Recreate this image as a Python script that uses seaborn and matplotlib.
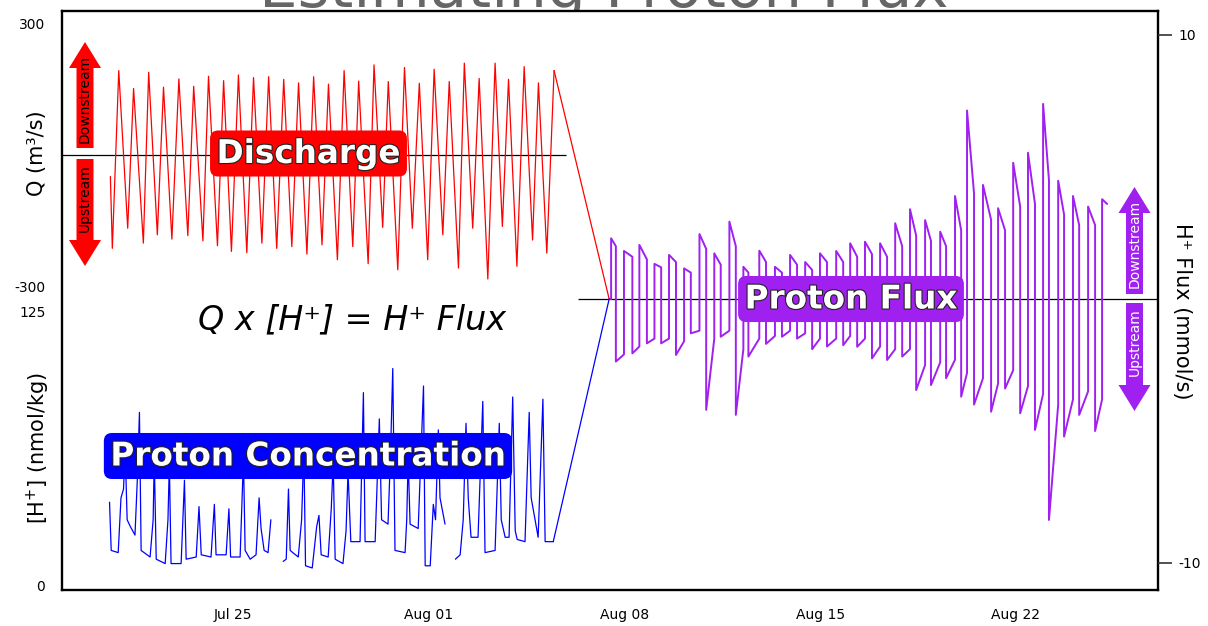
import numpy as np
import pandas as pd
import matplotlib
matplotlib.use("Agg")
import matplotlib.pyplot as plt
import matplotlib.dates as mdates
import matplotlib.patheffects as pe
from matplotlib.patches import FancyArrow, ConnectionPatch
import seaborn as sns

# ---- data (times are days after Jul 25) ----
base = pd.Timestamp("2016-07-25")
tick_dates = ["2016-07-25", "2016-08-01", "2016-08-08", "2016-08-15", "2016-08-22"]
x_range = [-6.12, 33.08]

# discharge: start point, then one trough + one peak per tide
q_start = (-4.39, -50)
q_trough_day = [-4.32, -3.77, -3.21, -2.71, -2.19, -1.62, -1.08, -0.56, -0.06, 0.49,
                1.03, 1.56, 2.10, 2.64, 3.18, 3.73, 4.28, 4.83, 5.35, 5.89,
                6.41, 6.96, 7.50, 8.06, 8.57, 9.11, 9.63, 10.15, 10.71, 11.22]
q_trough = [-214, -168, -202, -183, -193, -185, -197, -208, -221, -224,
            -202, -214, -210, -227, -206, -240, -210, -249, -166, -263,
            -168, -240, -183, -259, -168, -284, -164, -255, -195, -225]
q_peak_day = [-4.09, -3.56, -3.02, -2.49, -1.94, -1.41, -0.88, -0.34, 0.19, 0.73,
              1.27, 1.81, 2.34, 2.88, 3.41, 3.97, 4.49, 5.04, 5.55, 6.13,
              6.66, 7.19, 7.73, 8.27, 8.80, 9.37, 9.85, 10.41, 10.92, 11.48]
q_peak = [192, 151, 188, 154, 173, 156, 179, 169, 182, 176,
          178, 172, 164, 178, 161, 192, 168, 205, 167, 199,
          163, 195, 167, 209, 174, 209, 172, 201, 164, 192]

# proton concentration, three logger segments
conc_day_1 = [-4.42, -4.36, -4.11, -4.01, -3.92, -3.86, -3.79, -3.68, -3.51, -3.42, -3.35, -3.29,
              -2.97, -2.86, -2.82, -2.75, -2.43, -2.33, -2.28, -2.22, -1.86, -1.74, -1.68,
              -1.32, -1.22, -1.14, -0.79, -0.67, -0.61, -0.25, -0.15, -0.09, 0.25, 0.37, 0.43,
              0.61, 0.82, 0.93, 1.00, 1.11, 1.25, 1.35]
conc_1 = [38, 16, 15, 40, 44, 62, 30, 27, 23, 50, 79, 16,
          13, 30, 58, 12, 10, 30, 56, 10, 10, 48, 12,
          13, 36, 14, 13, 37, 14, 14, 35, 13, 13, 58, 16,
          12, 14, 40, 26, 16, 15, 30]
conc_day_2 = [1.79, 1.90, 1.98, 2.04, 2.33, 2.45, 2.53, 2.59, 2.83, 2.99, 3.07, 3.15,
              3.40, 3.51, 3.58, 3.65, 3.93, 4.04, 4.11, 4.21, 4.54, 4.66, 4.72,
              5.08, 5.23, 5.31, 5.54, 5.63, 5.71, 5.79, 6.15, 6.21, 6.26, 6.33,
              6.62, 6.69, 6.81, 6.87, 7.05, 7.16, 7.24, 7.34, 7.40, 7.58]
conc_2 = [11, 12, 44, 16, 13, 30, 62, 9, 8, 27, 32, 14,
          13, 35, 56, 12, 10, 25, 52, 20, 20, 88, 20,
          20, 76, 30, 28, 60, 99, 16, 15, 30, 58, 28,
          26, 50, 91, 9, 9, 37, 30, 71, 40, 28]
conc_day_3 = [7.95, 8.12, 8.23, 8.33, 8.41, 8.51, 8.76, 8.93, 9.01, 9.37, 9.52, 9.59,
              9.73, 9.87, 10.00, 10.09, 10.16, 10.44, 10.59, 10.66, 10.80, 10.91,
              11.08, 11.16, 11.45]
conc_3 = [12, 14, 30, 74, 40, 22, 22, 84, 15, 16, 74, 30,
          22, 22, 86, 25, 21, 20, 79, 40, 30, 22,
          85, 20, 20]

# proton flux: start at zero, then rise / high / fall / low for each tide
flux_start = (13.45, 0.0)
flux_rise = [13.52, 13.98, 14.53, 15.07, 15.59, 16.13, 16.68, 17.21, 17.75, 18.25,
             18.82, 19.38, 19.92, 20.46, 20.99, 21.57, 22.07, 22.60, 23.14, 23.68,
             24.21, 24.75, 25.29, 25.82, 26.25, 26.82, 27.36, 27.90, 28.43, 28.97,
             29.51, 30.04, 30.58, 31.08]
flux_fall = [13.69, 14.28, 14.80, 15.31, 15.84, 16.37, 16.92, 17.44, 17.98, 18.43,
             19.06, 19.63, 20.17, 20.71, 21.24, 21.82, 22.32, 22.85, 23.39, 23.93,
             24.43, 24.96, 25.50, 26.04, 26.50, 27.11, 27.61, 28.15, 28.68, 29.18,
             29.72, 30.26, 30.83]
flux_high = [2.30, 1.82, 2.05, 1.33, 1.67, 1.16, 2.46, 1.73, 2.93, 1.22,
             1.83, 1.22, 1.67, 1.40, 1.73, 1.82, 2.11, 2.17, 2.11, 2.87,
             3.40, 2.99, 2.55, 3.90, 7.14, 4.32, 3.44, 5.16, 5.54, 7.39,
             4.48, 3.90, 3.50, 3.78]
flux_high_end = [2.0, 1.6, 1.5, 1.2, 1.4, 1.0, 1.9, 1.3, 2.0, 1.0,
                 1.4, 1.0, 1.3, 1.1, 1.4, 1.4, 1.6, 1.7, 1.6, 2.0,
                 2.4, 2.2, 2.0, 2.6, 4.0, 3.0, 2.6, 3.5, 3.6, 4.5,
                 3.2, 2.8, 2.8]
flux_low = [-2.37, -2.06, -1.68, -1.68, -2.12, -1.30, -4.20, -1.43, -4.39, -2.18,
            -1.70, -1.43, -1.50, -1.90, -1.80, -1.75, -1.81, -2.25, -2.31, -2.18,
            -3.45, -3.26, -3.00, -3.70, -4.00, -4.27, -3.39, -4.33, -4.96, -8.37,
            -5.21, -4.39, -5.00]
flux_low_end = [-2.1, -1.8, -1.5, -1.5, -1.6, -1.2, -1.5, -1.2, -1.9, -1.5,
                -1.4, -1.2, -1.3, -1.5, -1.5, -1.4, -1.5, -1.8, -1.9, -1.9,
                -2.5, -2.4, -2.3, -2.8, -3.0, -3.2, -2.7, -3.3, -3.6, -4.0,
                -3.8, -3.5, -3.8]
flux_end = (31.26, 3.6)

q_zero_end = 11.91
flux_zero_start = 12.34


def to_time(days):
    return base + pd.to_timedelta(np.asarray(days, dtype=float), unit="D")


# discharge polyline
q_days = [q_start[0]]
q_vals = [q_start[1]]
for td, tv, pd_, pv in zip(q_trough_day, q_trough, q_peak_day, q_peak):
    q_days += [td, pd_]
    q_vals += [tv, pv]
df_q = pd.DataFrame({"time": to_time(q_days), "Q": q_vals})

# concentration segments
df_c = pd.concat([
    pd.DataFrame({"time": to_time(d), "H": v, "seg": i})
    for i, (d, v) in enumerate([(conc_day_1, conc_1), (conc_day_2, conc_2), (conc_day_3, conc_3)])
])

# flux polyline
f_days = [flux_start[0]]
f_vals = [flux_start[1]]
prev = flux_start[1]
for i in range(len(flux_fall)):
    f_days += [flux_rise[i], flux_rise[i], flux_fall[i], flux_fall[i]]
    f_vals += [prev, flux_high[i], flux_high_end[i], flux_low[i]]
    prev = flux_low_end[i]
f_days += [flux_rise[-1], flux_rise[-1], flux_end[0]]
f_vals += [prev, flux_high[-1], flux_end[1]]
df_f = pd.DataFrame({"time": to_time(f_days), "F": f_vals})

# ---- figure ----
sns.set_style("white")
plt.rcParams["font.family"] = ["DejaVu Sans"]
plt.rcParams["axes.unicode_minus"] = False
plt.rcParams["text.color"] = "black"
plt.rcParams["xtick.color"] = "black"
plt.rcParams["ytick.color"] = "black"

W, H = 1208, 626
fig = plt.figure(figsize=(W / 100, H / 100), dpi=100)


def rect(x0, y0, x1, y1):
    return [x0 / W, 1 - y1 / H, (x1 - x0) / W, (y1 - y0) / H]


# clipped title behind the frame
fig.text(0.5, 1 - 7 / H, "Estimating Proton Flux", ha="center", va="baseline",
         fontsize=44, color="#666666", zorder=-1)

ax = fig.add_axes(rect(62, 11, 1158, 590))
ax.set_facecolor("white")
for s in ax.spines.values():
    s.set_linewidth(1.7)
    s.set_color("black")
ax.set_yticks([])
ax.set_xlim(to_time(x_range[:1])[0], to_time(x_range[1:])[0])
ax.set_xticks(pd.to_datetime(tick_dates))
ax.xaxis.set_major_formatter(mdates.DateFormatter("%b %d"))
ax.tick_params(axis="x", length=9, width=1.5, color="#333333", labelsize=10, pad=4,
               labelcolor="black")

ax_q = fig.add_axes(rect(62, 23.3, 1158, 286), sharex=ax)
ax_c = fig.add_axes(rect(62, 311.5, 1158, 585.5), sharex=ax)
ax_f = fig.add_axes(rect(62, 35, 1158, 563), sharex=ax)
for a in (ax_q, ax_c, ax_f):
    a.set_facecolor("none")
    for s in a.spines.values():
        s.set_visible(False)
    a.tick_params(axis="x", bottom=False, labelbottom=False)
    a.tick_params(axis="y", length=10, width=1.2, color="#333333", labelsize=10, pad=2,
                  labelcolor="black")

# discharge
ax_q.hlines(0, to_time(x_range[:1])[0], to_time([q_zero_end])[0], color="black", lw=0.9)
sns.lineplot(data=df_q, x="time", y="Q", ax=ax_q, color="#ff0000", linewidth=0.9,
             estimator=None, sort=False)
ax_q.set_ylim(-300, 300)
ax_q.set_yticks([-300, 300])
ax_q.set_ylabel("")
ax_q.set_xlabel("")

# concentration
sns.lineplot(data=df_c, x="time", y="H", units="seg", ax=ax_c, color="#0000ff",
             linewidth=0.9, estimator=None, sort=False, legend=False)
ax_c.set_ylim(0, 125)
ax_c.set_yticks([0, 125])
ax_c.set_ylabel("")
ax_c.set_xlabel("")

# flux
ax_f.hlines(0, to_time([flux_zero_start])[0], to_time(x_range[1:])[0], color="black", lw=0.9)
sns.lineplot(data=df_f, x="time", y="F", ax=ax_f, color="#a020f0", linewidth=1.4,
             estimator=None, sort=False)
ax_f.set_ylim(-10, 10)
ax_f.set_yticks([-10, 10])
ax_f.yaxis.tick_right()
ax_f.tick_params(axis="y", left=False, right=True, pad=5)
ax_f.set_ylabel("")
ax_f.set_xlabel("")

ax.set_xlim(to_time(x_range[:1])[0], to_time(x_range[1:])[0])
ax.set_xlabel("")

# connectors from inputs to flux
t_f0 = mdates.date2num(to_time([flux_start[0]])[0])
for axa, xy, col in [
    (ax_q, (mdates.date2num(to_time([q_peak_day[-1]])[0]), q_peak[-1]), "#ff0000"),
    (ax_c, (mdates.date2num(to_time([conc_day_3[-1]])[0]), conc_3[-1]), "#0000ff"),
]:
    con = ConnectionPatch(xyA=xy, coordsA=axa.transData, xyB=(t_f0, 0), coordsB=ax_f.transData,
                          color=col, lw=0.9)
    fig.add_artist(con)

# ---- overlay: labels, arrows ----
ov = fig.add_axes([0, 0, 1, 1], zorder=5)
ov.set_xlim(0, W)
ov.set_ylim(H, 0)
ov.axis("off")
ov.set_facecolor("none")

outline = [pe.withStroke(linewidth=1.6, foreground="#222222")]
for (x, y, txt, col) in [(308.5, 153.5, "Discharge", "#ff0000"),
                         (308, 456, "Proton Concentration", "#0000ff"),
                         (851, 299, "Proton Flux", "#a020f0")]:
    ov.text(x, y, txt, ha="center", va="center", fontsize=23.5, fontweight="bold",
            color="white", path_effects=outline,
            bbox=dict(boxstyle="round,pad=0.2,rounding_size=0.25", fc=col, ec="none"))

ov.text(352, 320, "Q x [H\u207a] = H\u207a Flux", ha="center", va="center",
        fontsize=24, style="italic", color="black")

# side labels
ov.text(37, 153, "Q (m\u00b3/s)", rotation=90, ha="center", va="center", fontsize=15)
ov.text(38, 448, "[H$^{+}$] (nmol/kg)", rotation=90, ha="center", va="center", fontsize=15)
ov.text(1182, 311, "H\u207a Flux (mmol/s)", rotation=-90, ha="center", va="center", fontsize=15)

# direction arrows
for (cx, y0, y1, col, txt, tcol, ty) in [
    (85, 148, 42, "#ff0000", "Downstream", "black", 99),
    (85, 159, 266, "#ff0000", "Upstream", "black", 198),
    (1134.5, 294, 187, "#a020f0", "Downstream", "white", 244),
    (1134.5, 303, 411, "#a020f0", "Upstream", "white", 342),
]:
    ov.add_patch(FancyArrow(cx, y0, 0, y1 - y0, width=17, head_width=32, head_length=26,
                            length_includes_head=True, color=col, lw=0))
    ov.text(cx, ty, txt, rotation=90, ha="center", va="center", fontsize=10, color=tcol)

fig.savefig("out.png", dpi=100)
